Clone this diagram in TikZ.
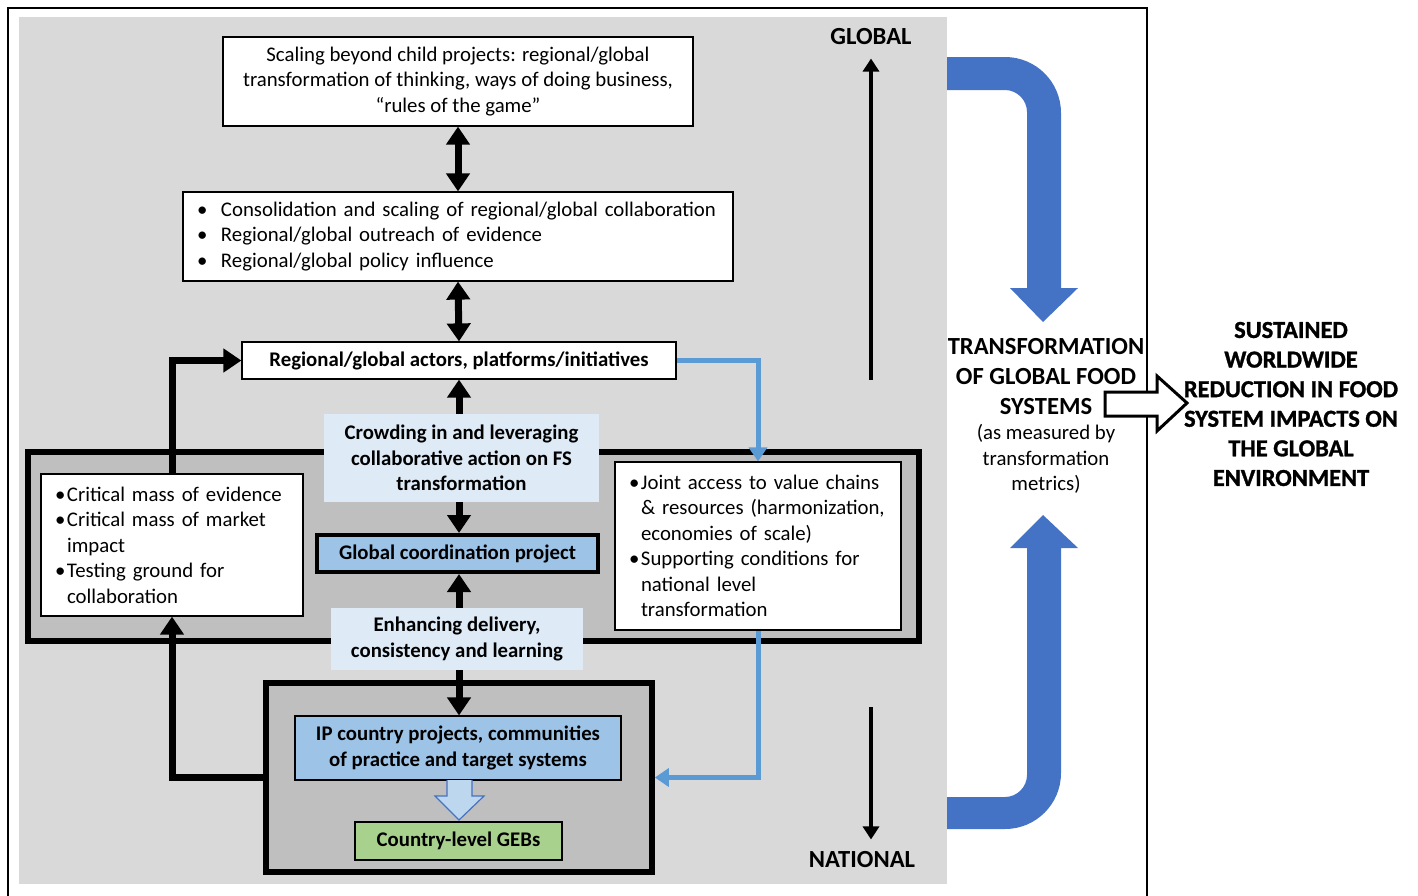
\documentclass[tikz,border=0pt]{standalone}
\usepackage{fontspec}
\setmainfont{Carlito}
\newfontfamily\heavyfont{Carlito}[BoldFeatures={FakeBold=1.2}]
\usetikzlibrary{arrows.meta,calc}

\definecolor{panelgray}{HTML}{D9D9D9}
\definecolor{tiergray}{HTML}{BFBFBF}
\definecolor{paleblue}{HTML}{DEEBF7}
\definecolor{midblue}{HTML}{9DC3E6}
\definecolor{lightblue}{HTML}{BDD7EE}
\definecolor{leafgreen}{HTML}{A9D18E}
\definecolor{royalblue}{HTML}{4472C4}
\definecolor{linkblue}{HTML}{5B9BD5}

\newcommand{\figbody}{\fontsize{10.4}{12.75}\selectfont}
\newcommand{\figbullet}[2]{\mbox{\makebox[#1][l]{\textbullet}#2}}
\newcommand{\figcont}[2]{\mbox{\hspace*{#1}#2}}

\tikzset{
  whitebox/.style={draw=black, line width=0.6pt, fill=white, inner sep=0pt, align=center},
  listbox/.style={whitebox, align=left, inner xsep=7pt},
  tier/.style={draw=black, line width=2.8pt, fill=tiergray, inner sep=0pt},
  paleband/.style={fill=paleblue, inner sep=0pt, align=center, font=\figbody\bfseries},
  bluebox/.style={draw=black, line width=0.6pt, fill=midblue, inner sep=0pt, align=center, font=\figbody\bfseries},
  blackflow/.style={line width=3.5pt, -{Triangle[width=11.5pt,length=9pt]}},
  blackboth/.style={line width=3.5pt, {Triangle[width=11.5pt,length=9pt]}-{Triangle[width=11.5pt,length=9pt]}},
  blueflow/.style={draw=linkblue, line width=2.5pt, -{Triangle[width=9pt,length=7pt]}},
  scalearrow/.style={line width=1.6pt, -{Triangle[width=8pt,length=6.5pt]}},
  levellabel/.style={font=\fontsize{12.3}{14}\selectfont\bfseries, inner sep=2pt},
}

\begin{document}
\begin{tikzpicture}[x=0.5pt, y=-0.5pt, every node/.style={font=\figbody}]
\useasboundingbox (0,0) rectangle (1418,895);

% outer frame and shaded panel
\draw[line width=1pt] (8,897) -- (8,8) -- (1147,8) -- (1147,897);
\fill[panelgray] (19,17) rectangle (947,884);

% tiers
\node[tier, minimum width=445.5pt, minimum height=94.5pt] (midtier) at (473.5,546.5) {};
\node[tier, minimum width=193pt, minimum height=94.5pt] (bot) at (459,777.5) {};

% boxes
\node[whitebox, minimum width=235pt, minimum height=44.5pt] (box1) at (458,81.5)
  {Scaling beyond child projects: regional/global\\transformation of thinking, ways of doing business,\\“rules of the game”};
\node[listbox, text width=261pt, minimum height=44.5pt] (box2) at (458,236.5)
  {\figbullet{12pt}{Consolidation and scaling of regional/global collaboration}\\
   \figbullet{12pt}{Regional/global outreach of evidence}\\
   \figbullet{12pt}{Regional/global policy influence}};
\node[whitebox, minimum width=217pt, minimum height=18.5pt, font=\figbody\bfseries] (box3) at (459,360.5)
  {Regional/global actors, platforms/initiatives};
\node[paleband, minimum width=137.5pt, minimum height=44pt] (crowd) at (461.5,458)
  {Crowding in and leveraging\\collaborative action on FS\\transformation};
\node[paleband, minimum width=126pt, minimum height=31pt] (enh) at (457,639)
  {Enhancing delivery,\\consistency and learning};
\node[listbox, text width=117pt, minimum height=71pt] (crit) at (172,545)
  {\figbullet{6pt}{Critical mass of evidence}\\
   \figbullet{6pt}{Critical mass of market}\\
   \figcont{6pt}{impact}\\
   \figbullet{6pt}{Testing ground for}\\
   \figcont{6pt}{collaboration}};
\node[listbox, text width=129pt, minimum height=84pt] (joint) at (758,546)
  {\figbullet{6pt}{Joint access to value chains}\\
   \figcont{6pt}{\& resources (harmonization,}\\
   \figcont{6pt}{economies of scale)}\\
   \figbullet{6pt}{Supporting conditions for}\\
   \figcont{6pt}{national level}\\
   \figcont{6pt}{transformation}};
\node[bluebox, line width=2pt, minimum width=140.5pt, minimum height=18.5pt] (gcp) at (457.5,553.5)
  {Global coordination project};
\node[bluebox, minimum width=163pt, minimum height=32pt] (ip) at (458,748)
  {IP country projects, communities\\of practice and target systems};
\node[bluebox, fill=leafgreen, minimum width=103.5pt, minimum height=19pt] (geb) at (458.5,841)
  {Country-level GEBs};

% flows between tiers
\draw[blackboth] (box1.south) -- (box2.north);
\draw[blackboth] (box2.south) -- (box3.north);
\draw[blackflow] (box3.south |- crowd.north) -- (box3.south);
\draw[blackflow] (box3.south |- crowd.south) -- (box3.south |- gcp.north);
\draw[blackflow] (box3.south |- enh.north) -- (box3.south |- gcp.south);
\draw[blackflow] (box3.south |- enh.south) -- (box3.south |- ip.north);
\draw[blackflow] (bot.west) -| (crit.south);
\draw[blackflow] (crit.north) |- (box3.west);
\draw[blueflow] (box3.east) -| (joint.north);
\draw[blueflow] (joint.south) |- (bot.east);

% block arrow from projects to benefits
\fill[lightblue] (447,780) -- (447,796) -- (435,796) -- (459,820) -- (484,796) -- (472,796) -- (472,780) -- cycle;
\draw[royalblue, line width=0.6pt] (447,780) -- (447,796) -- (435,796) -- (459,820) -- (484,796) -- (472,796) -- (472,780);

% global / national scale
\node[levellabel] (glob) at (871,37) {GLOBAL};
\node[levellabel] (nat) at (862,860) {NATIONAL};
\coordinate (gfoot) at (871,380);
\coordinate (nhead) at (871,707);
\draw[scalearrow, shorten >=4.5pt] (gfoot) -- (glob.south);
\draw[scalearrow, shorten >=4pt] (nhead) -- (nhead |- nat.north);

% bent blue arrows
\fill[royalblue] (947,57) -- (1005,57) .. controls (1036,57) and (1061,82) .. (1061,113)
  -- (1061,288) -- (1078,288) -- (1043,322) -- (1010,288) -- (1027,288) -- (1027,112)
  .. controls (1027,100) and (1017,90) .. (1005,90) -- (947,90) -- cycle;
\fill[royalblue] (1043,515) -- (1078,548) -- (1061,548) -- (1061,773)
  .. controls (1061,804) and (1036,829) .. (1005,829) -- (947,829) -- (947,797) -- (1005,797)
  .. controls (1017,797) and (1027,787) .. (1027,775) -- (1027,548) -- (1010,548) -- cycle;

% outcome
\node[font=\fontsize{12.3}{15}\selectfont\bfseries, align=center] (tfs) at (1046,377)
  {TRANSFORMATION\\OF GLOBAL FOOD\\SYSTEMS};
\node[align=center] (tfm) at (1046,459) {(as measured by\\transformation\\metrics)};
\draw[line width=1.5pt, fill=white] (1105,392) -- (1157,392) -- (1157,376) -- (1187,403)
  -- (1157,431) -- (1157,416) -- (1105,416) -- cycle;
\node[font=\heavyfont\fontsize{12.2}{14.8}\selectfont\bfseries, align=center] (sust) at (1291,404)
  {SUSTAINED\\WORLDWIDE\\REDUCTION IN FOOD\\SYSTEM IMPACTS ON\\THE GLOBAL\\ENVIRONMENT};
\end{tikzpicture}
\end{document}
